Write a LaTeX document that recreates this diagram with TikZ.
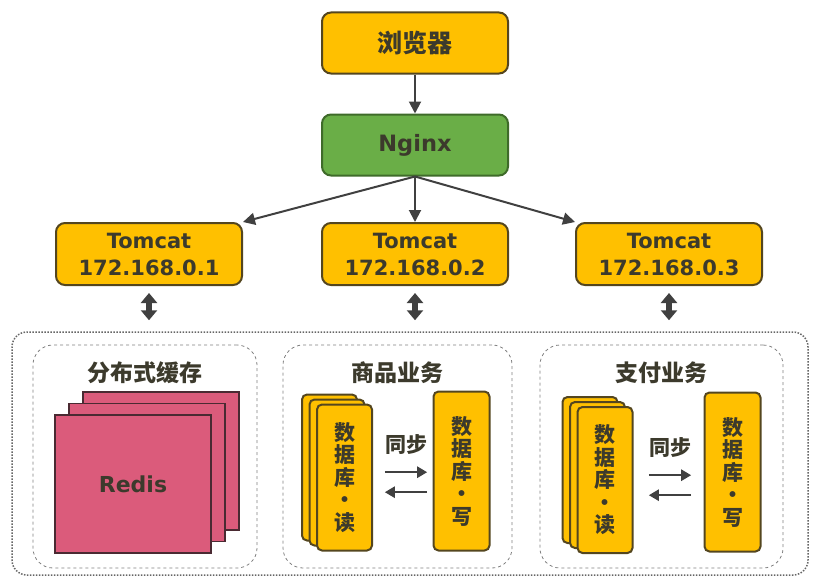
\documentclass[tikz,border=0pt]{standalone}
\usepackage{fontspec}
\setmainfont{DejaVu Sans}
\newfontfamily\cjk{Noto Sans CJK SC}
\usetikzlibrary{calc, arrows.meta}
\definecolor{boxyellow}{HTML}{FFC000}
\definecolor{boxline}{HTML}{54461F}
\definecolor{nggreen}{HTML}{6AAE47}
\definecolor{ngline}{HTML}{3F6B2A}
\definecolor{redisred}{HTML}{DB5B7B}
\definecolor{redisline}{HTML}{4A2A32}
\definecolor{txt}{HTML}{3C3A2C}
\definecolor{arr}{HTML}{404040}

\begin{document}
\begin{tikzpicture}[x=1pt, y=-1pt,
    box/.style={draw=boxline, line width=2pt, rounded corners=9pt, fill=boxyellow, minimum width=186pt, minimum height=61pt, text=txt, align=center, font=\bfseries\fontsize{21}{27}\selectfont},
    ngbox/.style={box, fill=nggreen, draw=ngline, font=\bfseries\fontsize{22.5}{27}\selectfont},
    panel/.style={draw=gray, dashed, line width=0.8pt, rounded corners=20pt, minimum height=223pt},
    title/.style={text=txt, font=\cjk\bfseries\fontsize{23}{23}\selectfont},
    dbbox/.style={draw=boxline, line width=2pt, rounded corners=5pt, fill=boxyellow, minimum width=55pt, minimum height=146pt, text=txt, align=center, inner sep=0pt, font=\cjk\bfseries\fontsize{21}{22.5}\selectfont},
    redisbox/.style={draw=redisline, line width=1.5pt, fill=redisred, minimum width=156pt, minimum height=138pt},
    link/.style={arr, line width=2pt, -{Triangle[length=12pt, width=12pt]}},
    dbl/.style={arr, line width=5.5pt, {Triangle[length=10pt, width=16pt]}-{Triangle[length=10pt, width=16pt]}},
    syncarr/.style={arr, line width=2.5pt, -{Triangle[length=10pt, width=11pt]}}]
    \useasboundingbox (0,0) rectangle (813,578);
    \node[box] (browser) at (415,43) {\cjk\fontsize{25}{25}\selectfont 浏览器};
    \node[ngbox] (nginx) at (415,145) {Nginx};
    \foreach \n/\x in {1/149, 2/415, 3/669}
        \node[box, minimum height=62pt] (tc\n) at (\x,254) {Tomcat\\172.168.0.\n};
    \draw[link] (browser) -- (nginx);
    \draw[link] (nginx.south) -- (tc1.north east);
    \draw[link] (nginx.south) -- (tc2.north);
    \draw[link] (nginx.south) -- (tc3.north west);
    % outer frame and the three panels
    \node[draw=arr!80, line width=1.5pt, dash pattern=on 1.5pt off 1.5pt, rounded corners=15pt, minimum width=796pt, minimum height=243pt] (outer) at (410,453.5) {};
    \foreach \n in {1,2,3}
        \draw[dbl, shorten <=7pt, shorten >=11pt] (tc\n.south) -- (tc\n.south |- outer.north);
    \node[panel, minimum width=224pt] (cache) at (145,456.5) {};
    \node[panel, minimum width=229pt] (goods) at (397.5,456.5) {};
    \node[panel, minimum width=243pt] (pay) at (661.5,456.5) {};
    \node[title] (cachetitle) at ($(cache.north)+(0,28)$) {分布式缓存};
    \node[title] (goodstitle) at ($(goods.north)+(0,28)$) {商品业务};
    \node[title] (paytitle) at ($(pay.north)+(0,28)$) {支付业务};
    \foreach \k in {2,1} \node[redisbox] at (133+14*\k, 484-11.5*\k) {};
    \node[redisbox, text=txt, font=\bfseries\fontsize{22}{24}\selectfont] (redis) at (133,484) {Redis};
    \foreach \p/\rx/\ry/\wx/\wy/\sx/\sy in {1/344.5/477.5/461.5/471/406/445, 2/605/480/732.5/472/670/448} {
        \foreach \k in {2,1} \node[dbbox] at (\rx-7.5*\k, \ry-5*\k) {};
        \node[dbbox] (rd\p) at (\rx,\ry) {数\\据\\库\\·\\读};
        \node[dbbox, minimum width=56pt, minimum height=159pt] (wr\p) at (\wx,\wy) {数\\据\\库\\·\\写};
        \node[title, font=\cjk\bfseries\fontsize{21}{21}\selectfont, inner sep=0pt] (sync\p) at (\sx,\sy) {同步};
        \draw[syncarr] ([yshift=-17pt]sync\p.south west) -- ([yshift=-17pt]sync\p.south east);
        \draw[syncarr] ([yshift=-37pt]sync\p.south east) -- ([yshift=-37pt]sync\p.south west);
    }
\end{tikzpicture}
\end{document}
